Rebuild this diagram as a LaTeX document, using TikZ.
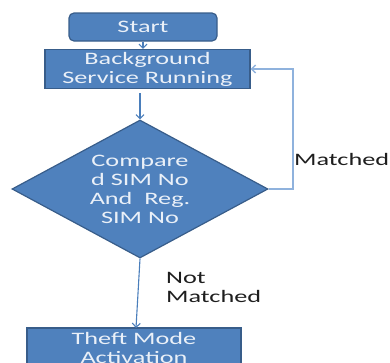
\documentclass[tikz,border=0pt]{standalone}
\usepackage{fontspec}
\setmainfont{Carlito}[FakeStretch=1.5]
\usetikzlibrary{shapes.geometric,arrows.meta}
\definecolor{boxfill}{HTML}{4F81BD}
\definecolor{boxline}{HTML}{385D8A}
\definecolor{arrowc}{HTML}{4A7EBB}
\definecolor{loopc}{HTML}{8FB2DD}
\definecolor{txtc}{HTML}{EAF0F8}
\definecolor{lblc}{HTML}{1E1E1E}
\begin{document}
\begin{tikzpicture}[x=1pt,y=-1pt,
  every node/.style={font=\fontsize{17.5}{19}\selectfont},
  box/.style={draw=boxline, line width=1.2pt, fill=boxfill, text=txtc, align=center, inner sep=0pt},
  conn/.style={draw=arrowc, line width=1.1pt, -{Straight Barb[length=4pt,width=8pt]}},
  loopconn/.style={draw=loopc, line width=1.4pt, -{Straight Barb[length=4pt,width=8pt]}},
  lbl/.style={text=lblc, align=left, inner sep=0pt}]
\useasboundingbox (0,0) rectangle (390,362);
\clip (0,0) rectangle (390,362);
\node[box, rounded corners=5pt, minimum width=148pt, minimum height=28pt] (start) at (143,27) {Start};
\node[box, minimum width=205pt, minimum height=39pt] (bg) at (147.5,69) {Background\\Service Running};
\node[box, diamond, minimum width=256pt, minimum height=138pt, shape aspect=1.855] (cmp) at (140,189) {Compare\\d SIM No\\And~ Reg.\\SIM No};
\node[box, minimum width=214pt, minimum height=39pt] (theft) at (134,347.5) {Theft Mode\\Activation};
\coordinate (bgout) at (140,93);
\coordinate (loopr) at (293,189);
\coordinate (loopt) at (293,69);
\coordinate (tin) at (136,328);
\node[lbl, anchor=west] (m) at (294,159) {Matched};
\node[lbl, anchor=north west] (nm) at (166,272) {Not\\Matched};
\draw[conn] (start.south) -- (start.south |- bg.north);
\draw[conn] (bgout) -- (cmp.north);
\draw[loopconn] (cmp.east) -- (loopr) -- (loopt) -- (bg.east |- loopt);
\draw[conn] (cmp.south) -- (tin);
\end{tikzpicture}
\end{document}
